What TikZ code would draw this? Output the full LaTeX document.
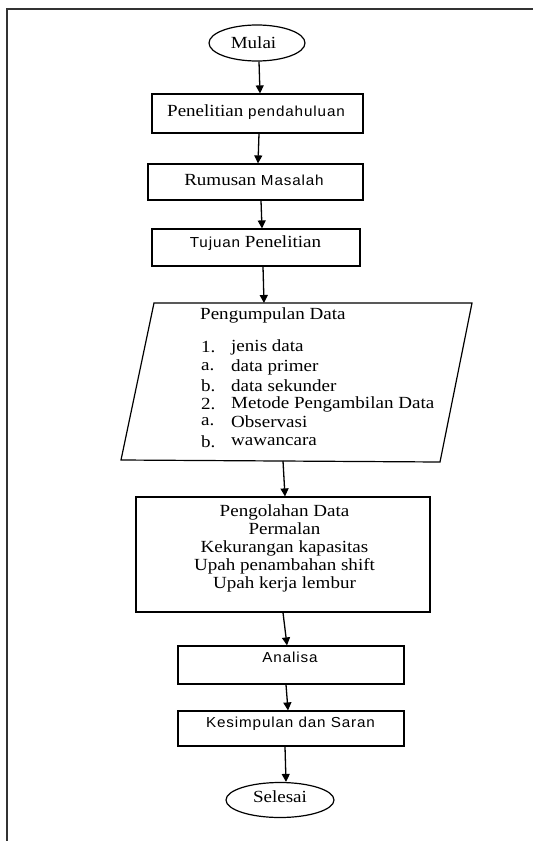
\documentclass[tikz,border=0pt]{standalone}
\usepackage{fontspec}
\setmainfont[FakeStretch=1.12]{Liberation Serif}
\newfontfamily\sansf[LetterSpace=6,FakeStretch=1.05]{Liberation Sans}
\usetikzlibrary{arrows.meta,shapes.geometric}
\begin{document}
\begin{tikzpicture}[x=1pt,y=-1pt,
  box/.style={draw,line width=1.2pt,inner sep=0pt},
  term/.style={draw,ellipse,line width=1.2pt,inner sep=0pt},
  arr/.style={-{Triangle[length=8pt,width=8pt]},line width=1.3pt},
  txt/.style={font=\fontsize{17}{18}\selectfont,inner sep=0pt},
  stxt/.style={font=\sansf\fontsize{14.5}{18}\selectfont,inner sep=0pt}]
\useasboundingbox (0,0) rectangle (533,841);
\fill[white] (0,0) rectangle (533,841);
% outer frame
\draw[line width=2pt,black!80] (6.5,841) -- (6.5,8.5) -- (533,8.5);

% shapes
\node[term,minimum width=96pt,minimum height=36pt] (mulai) at (257,43) {};
\node[box,minimum width=211pt,minimum height=39pt] (b1) at (257.5,113.5) {};
\node[box,minimum width=215pt,minimum height=36pt] (b2) at (255.5,182) {};
\node[box,minimum width=208pt,minimum height=37pt] (b3) at (256,247.5) {};
\coordinate (pTL) at (154,303);
\coordinate (pTR) at (472,303);
\coordinate (pBR) at (440,462);
\coordinate (pBL) at (121,460);
\draw[line width=1.2pt] (pTL) -- (pTR) -- (pBR) -- (pBL) -- cycle;
\coordinate (pIn) at (264,303);
\coordinate (pOut) at (283,461);
\node[box,minimum width=294pt,minimum height=115pt] (b5) at (283,554.5) {};
\node[box,minimum width=226pt,minimum height=38pt] (b6) at (291,665) {};
\node[box,minimum width=226pt,minimum height=35pt] (b7) at (291,728.5) {};
\node[term,minimum width=108pt,minimum height=35pt] (selesai) at (280,800) {};

% texts
\node[txt] (tmulai) at (253.5,43) {Mulai};
\node[txt] (t1) at (256,112) {Penelitian {\sansf\fontsize{14.5}{18}\selectfont pendahuluan}};
\node[txt] (t2) at (254,180) {Rumusan {\sansf\fontsize{14.5}{18}\selectfont Masalah}};
\node[txt] (t3) at (255.5,243) {{\sansf\fontsize{14.5}{18}\selectfont Tujuan} Penelitian};
\node[txt,anchor=west] (t4) at (200,315) {Pengumpulan Data};
\foreach \n/\t/\y in {1./jenis data/347, a./data primer/367, b./data sekunder/386,
  2./Metode Pengambilan Data/404, a./Observasi/422, b./wawancara/442}{
  \node[txt,anchor=west] at (201,\y) {\n};
  \node[txt,anchor=west] at (231,\y) {\t};
}
\node[txt,align=center,anchor=north] (t5) at (284.5,504) {Pengolahan Data\\Permalan\\Kekurangan kapasitas\\Upah penambahan shift\\Upah kerja lembur};
\node[stxt] (t6) at (290,657) {Analisa};
\node[stxt] (t7) at (290.5,724) {Kesimpulan dan Saran};
\node[txt] (t8) at (280,797) {Selesai};

% connectors
\draw[arr] ([xshift=2pt]mulai.south) -- ([xshift=2.5pt]b1.north);
\draw[arr] ([xshift=1.5pt]b1.south) -- ([xshift=2.5pt]b2.north);
\draw[arr] ([xshift=5.5pt]b2.south) -- ([xshift=6pt]b3.north);
\draw[arr] ([xshift=7pt]b3.south) -- (pIn);
\draw[arr] (pOut) -- ([xshift=2pt]b5.north);
\draw[arr] ([xshift=0pt]b5.south) -- ([xshift=-4pt]b6.north);
\draw[arr] ([xshift=-5pt]b6.south) -- ([xshift=-3pt]b7.north);
\draw[arr] ([xshift=-6pt]b7.south) -- ([xshift=6pt]selesai.north);
\end{tikzpicture}
\end{document}
